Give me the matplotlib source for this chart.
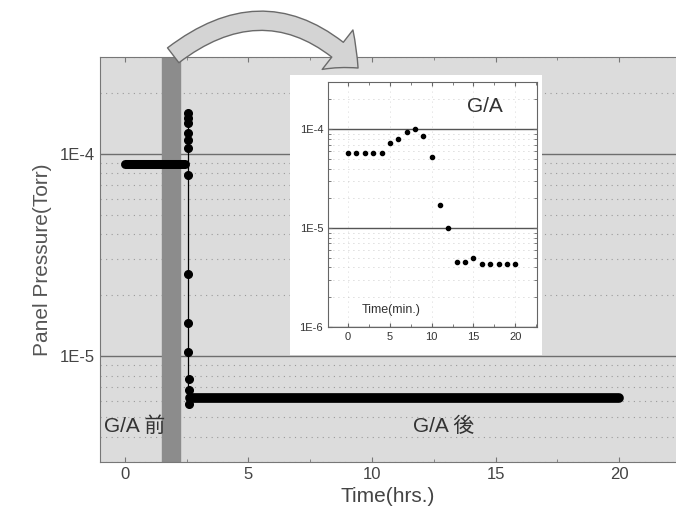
import numpy as np
import matplotlib
matplotlib.use('Agg')
import matplotlib.pyplot as plt
from matplotlib.patches import FancyArrowPatch, Rectangle
from matplotlib.ticker import FixedLocator, LogLocator, NullFormatter, MultipleLocator

plt.rcParams['font.family'] = ['Liberation Sans', 'Noto Sans CJK JP', 'DejaVu Sans']

# main run (hours)
before_t = [0.0, 2.45]
before_p = [8.9e-5, 8.9e-5]
spike_t = [2.55, 2.55, 2.55, 2.55, 2.55, 2.55, 2.55, 2.55, 2.55, 2.55, 2.6, 2.6, 2.6]
spike_p = [1.58e-4, 1.5e-4, 1.41e-4, 1.26e-4, 1.17e-4, 1.07e-4, 7.8e-5, 2.55e-5, 1.45e-5, 1.05e-5, 7.7e-6, 6.8e-6, 5.8e-6]
after_t = [2.65, 20.0]
after_p = [6.2e-6, 6.2e-6]
band = (1.5, 2.25)

# inset (minutes)
inset_t = [0, 1, 2, 3, 4, 5, 6, 7, 8, 9, 10, 11, 12, 13, 14, 15, 16, 17, 18, 19, 20]
inset_p = [5.8e-5, 5.8e-5, 5.8e-5, 5.8e-5, 5.8e-5, 7.2e-5, 7.9e-5, 9.4e-5, 1.0e-4, 8.5e-5,
           5.2e-5, 1.7e-5, 1.0e-5, 4.5e-6, 4.5e-6, 5.0e-6, 4.3e-6, 4.3e-6, 4.3e-6, 4.3e-6, 4.3e-6]

W, H = 676, 527
fig = plt.figure(figsize=(W / 100, H / 100), dpi=100)
fig.patch.set_facecolor('white')

ax = fig.add_axes([100 / W, 1 - 462 / H, 1 - 100 / W, (462 - 57) / H])
ax.set_facecolor('#dcdcdc')
ax.set_yscale('log')
ax.set_xlim(-1, 22.3)
ax.set_ylim(3e-6, 3e-4)

ax.axvspan(*band, color='#8c8c8c', zorder=1)
ax.plot(before_t, before_p, color='black', lw=6.5, solid_capstyle='round', zorder=3)
ax.plot([2.55, 2.55], [1.58e-4, 6.2e-6], color='black', lw=0.9, zorder=3)
ax.plot(spike_t, spike_p, 'o', color='black', ms=5.5, zorder=3)
ax.plot(after_t, after_p, color='black', lw=7, solid_capstyle='round', zorder=3)

ax.yaxis.set_major_locator(FixedLocator([1e-5, 1e-4]))
ax.set_yticklabels(['1E-5', '1E-4'])
ax.yaxis.set_minor_locator(LogLocator(base=10, subs=np.arange(2, 10)))
ax.yaxis.set_minor_formatter(NullFormatter())
ax.xaxis.set_major_locator(MultipleLocator(5))
ax.xaxis.set_minor_locator(MultipleLocator(2.5))
ax.grid(True, which='major', axis='y', color='#6e6e6e', lw=1.0, zorder=0)
ax.grid(True, which='minor', axis='y', color='#9a9a9a', lw=0.8, ls=(0, (1, 4)), zorder=0)
ax.set_axisbelow(True)
ax.tick_params(which='both', direction='in', top=True, colors='#777777', labelcolor='#444444',
               labelsize=12)
ax.tick_params(axis='y', which='both', length=0)
for s in ['left', 'top', 'bottom']:
    ax.spines[s].set_color('#777777')
ax.spines['right'].set_visible(False)

ax.set_xlabel('Time(hrs.)', fontsize=15, color='#444444', labelpad=4)
ax.set_ylabel('Panel Pressure(Torr)', fontsize=15, color='#555555', labelpad=6)

ax.text(-0.85, 4.5e-6, 'G/A 前', fontsize=15, color='#333333', va='center', zorder=4)
ax.text(12.9, 4.5e-6, 'G/A 後', fontsize=15, color='#333333', va='center', ha='center', zorder=4)

# white box behind inset
fig.add_artist(Rectangle((290 / W, 1 - 355 / H), 252 / W, 280 / H, transform=fig.transFigure,
                         facecolor='white', edgecolor='none', zorder=1))

ins = fig.add_axes([328 / W, 1 - 327 / H, (537 - 328) / W, (327 - 82) / H], zorder=2)
ins.set_facecolor('white')
ins.set_yscale('log')
ins.set_xlim(-2.4, 22.6)
ins.set_ylim(1e-6, 3e-4)
ins.plot(inset_t, inset_p, 'o', color='black', ms=3)
ins.yaxis.set_major_locator(FixedLocator([1e-6, 1e-5, 1e-4]))
ins.set_yticklabels(['1E-6', '1E-5', '1E-4'])
ins.yaxis.set_minor_locator(LogLocator(base=10, subs=np.arange(2, 10)))
ins.yaxis.set_minor_formatter(NullFormatter())
ins.xaxis.set_major_locator(MultipleLocator(5))
ins.xaxis.set_minor_locator(MultipleLocator(2.5))
ins.grid(True, which='major', axis='y', color='#555555', lw=1.0)
ins.grid(True, which='minor', axis='y', color='#bbbbbb', lw=0.6, ls=(0, (1, 5)))
ins.grid(True, which='major', axis='x', color='#cccccc', lw=0.6, ls=(0, (1, 5)))
ins.set_axisbelow(True)
ins.tick_params(which='both', direction='in', top=True, right=True, colors='#666666',
                labelcolor='#333333', labelsize=8, length=3)
ins.tick_params(which='minor', length=2)
for s in ins.spines.values():
    s.set_color('#666666')
ins.text(0.75, 0.9, 'G/A', transform=ins.transAxes, fontsize=15, color='#333333',
         ha='center', va='center')
ins.text(0.3, 0.07, 'Time(min.)', transform=ins.transAxes, fontsize=9, color='#333333',
         ha='center', va='center')

# curved arrow from the annealing band to the inset
arrow = FancyArrowPatch((171 / W, 1 - 57 / H), (360 / W, 1 - 70 / H), transform=fig.transFigure,
                        connectionstyle='arc3,rad=-0.45',
                        arrowstyle='simple,head_length=1.1,head_width=2.0,tail_width=0.75',
                        mutation_scale=18, facecolor='#d4d4d4', edgecolor='#6a6a6a', lw=1.0,
                        zorder=5)
fig.add_artist(arrow)

fig.savefig('out.png', dpi=100)
